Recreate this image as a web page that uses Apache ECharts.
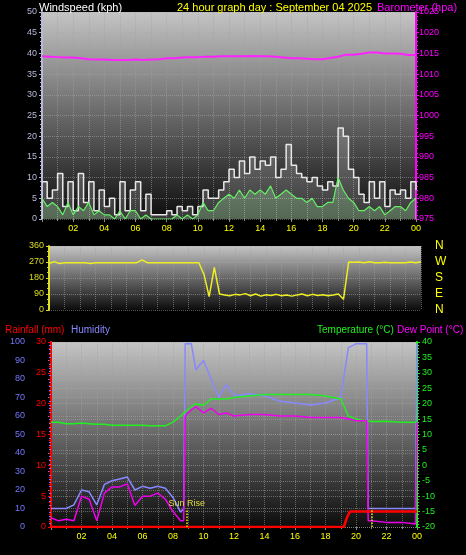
<!DOCTYPE html>
<html><head><meta charset="utf-8">
<script src="https://cdn.jsdelivr.net/npm/echarts@6/dist/echarts.min.js"></script>
<style>html,body{margin:0;padding:0;background:#000}#c{width:466px;height:555px}</style>
</head><body><div id="c"></div>
<script>
// --- data ---
const hourTicks = ['02','04','06','08','10','12','14','16','18','20','22','00'];
const compassLabels = ['N','E','S','W','N'];
// barometer, half-hourly 0..24
const baro = [1014.3,1014.2,1014.1,1014.0,1014.0,1013.8,1013.6,1013.5,1013.5,1013.4,1013.4,1013.4,1013.5,1013.4,1013.5,1013.6,1013.8,1013.8,1014.0,1014.1,1014.1,1014.2,1014.2,1014.3,1014.3,1014.3,1014.3,1014.4,1014.3,1014.3,1014.2,1014.0,1013.8,1013.8,1013.7,1013.6,1013.6,1013.9,1014.2,1014.7,1014.7,1014.9,1015.2,1015.2,1015.0,1015.0,1014.9,1014.6,1014.6];
// wind gust & average, 20-minute steps 0..24
const gust = [9,5,7, 11,3,9, 2,11,4, 9,2,7, 3,5,1, 9,2,7, 9,2,6, 1,1,1, 2,1,3, 2,3,1, 3,7,5, 5,7,9, 12,10,14, 11,15,12, 14,13,15, 10,12,18, 13,11,10, 9,10,8, 7,9,8, 22,20,12, 10,6,4, 9,5,9, 3,7,6, 7,5,9, 7];
const avgWind = [5,3,4, 3,1,4, 1,3,2, 4,1,2, 1,1,0, 2,0,2, 2,0,1, 0,0,0, 0,0,1, 0,1,0, 1,4,2, 2,4,5, 6,5,7, 5,7,6, 7,6,8, 5,6,7, 6,5,5, 4,5,3, 3,4,4, 10,7,5, 4,2,2, 3,2,3, 1,2,3, 3,2,4, 5];
const windDir = [262,272,262, 266,266,266, 266,266,262, 266,266,266, 266,266,266, 266,266,266, 282,266,266, 266,266,266, 266,266,266, 266,266,266, 200,75,240, 90,85,80, 88,85,92, 80,90,78, 86,82,88, 80,84,78, 85,90,80, 88,82,86, 80,84,90, 60,270,268, 270,266,272, 266,266,268, 266,266,266, 266,270,266, 272];
// temperature / humidity / dew point, irregular times (hours)
const thTimes = [0,0.5,1,1.5,2,2.5,3,3.5,4,4.5,5,5.5,6,6.5,7,7.5,8,8.5,8.7,8.8,9.2,9.5,10,10.5,11,11.5,12,13,14,15,16,17,18,19,19.5,20,20.5,20.7,20.8,21,22,23,23.9,24];
const humidity = [10,10,10,12,20,19,12,23,25,26,27,20,22,21,22,21,16,8,10,99,99,85,90,80,70,77,71,72,71,68,67,66,67,70,97,99,99,99,10,10,10,10,10,99];
const temperature = [14,14,13.5,13.5,13.7,13.5,13.3,13.3,13,13,13,13,13,12.8,12.8,12.8,14,16,17,17.5,19,20,19.5,21.5,21.5,21.5,22,22.5,23,23,23,23,22.5,21.5,16,15,14.5,14.5,14.3,14.2,14.3,14,14,14];
const dewPoint = [-17,-18,-17.5,-18,-10,-11,-18,-9,-7,-7,-6,-13,-10,-10,-9,-11,-15,-18,-18,16,18,19,17,18.5,16.5,17,16,16.5,16.5,16,16,15.5,15.5,15.5,15,14.5,14.5,14.5,-18,-18,-18.5,-18.5,-19,14];
const rainTimes = [0,19.2,19.4,19.6,24];
const rainfall = [0,0,1.5,2.5,2.5];
const sunTimes = [8.9, 21.0];

// --- chart ---
const pair = (t, v) => t.map((x, i) => [x, v[i]]);
const step20 = v => v.map((y, i) => [i / 3, y]);
const half = v => v.map((y, i) => [i / 2, y]);
const bg = {type:'linear',x:0,y:0,x2:0,y2:1,colorStops:[{offset:0,color:'#c4c4c4'},{offset:1,color:'#0c0c0c'}]};
const F = 'Liberation Sans, Arial, sans-serif';
const dotted = {show:true,lineStyle:{color:'rgba(160,160,160,0.55)',type:'dotted'}};
function xa(gi, labels) {
  return {type:'value',gridIndex:gi,min:0,max:24,interval:2,
    axisLine:{show:false},axisTick:{show:labels,length:3,lineStyle:{color:'#888'}},
    minorTick:{show:labels,splitNumber:2,length:2,lineStyle:{color:'#888'}},
    minorSplitLine:dotted,splitLine:dotted,
    axisLabel:{show:labels,color:'#ffff00',fontSize:9,fontFamily:F,margin:5,
      formatter:v=>v===0?'':String(v%24).padStart(2,'0')}};
}
function ya(gi, pos, min, max, interval, color, extra) {
  return Object.assign({type:'value',gridIndex:gi,position:pos,min,max,interval,
    axisLine:{show:true,lineStyle:{color:color,width:2}},
    axisTick:{show:true,length:3,lineStyle:{color:color}},
    minorTick:{show:true,splitNumber:5,length:2,lineStyle:{color:color}},
    splitLine:{show:pos==='left',lineStyle:{color:'rgba(170,170,170,0.5)',type:'dotted'}},
    axisLabel:{color:color,fontSize:9,fontFamily:F,margin:5,formatter:v=>String(v)}}, extra||{});
}
const ts = (c, s) => ({color:c,fontSize:s||11,fontWeight:'normal',fontFamily:F});
const chart = echarts.init(document.getElementById('c'));
chart.setOption({
  backgroundColor:'#000',
  animation:false,
  title:[
    {text:'Windspeed (kph)',left:34,top:-3,textStyle:ts('#fff')},
    {text:'24 hour graph day : September 04 2025',left:172,top:-3,textStyle:ts('#ffff00')},
    {text:'Barometer (hpa)',left:372,top:-3,textStyle:ts('#ff00ff')},
    {text:'Rainfall (mm)',left:0,top:320,textStyle:ts('#ff0000',10)},
    {text:'Humidity',left:66,top:320,textStyle:ts('#8888ff',10)},
    {text:'Temperature (°C)',left:312,top:320,textStyle:ts('#22ee22',10)},
    {text:'Dew Point (°C)',left:392,top:320,textStyle:ts('#ff00ff',10)}
  ],
  grid:[
    {left:42,top:12,width:374,height:207,show:true,backgroundColor:bg,borderWidth:0},
    {left:49,top:246,width:372,height:64,show:true,backgroundColor:bg,borderWidth:0},
    {left:51,top:342,width:366,height:185,show:true,backgroundColor:bg,borderWidth:0}
  ],
  xAxis:[xa(0,true), xa(1,false), xa(2,true)],
  yAxis:[
    ya(0,'left',0,50,5,'#b8b8d8'),
    ya(0,'right',975,1025,5,'#ff00ff',{axisLabel:{color:'#ff00ff',fontSize:9,fontFamily:F,margin:3,formatter:v=>String(v)}}),
    ya(1,'left',0,360,90,'#dddd22',{minorTick:{show:true,splitNumber:3,length:2,lineStyle:{color:'#dddd22'}}}),
    {type:'value',gridIndex:1,position:'right',min:0,max:360,interval:90,axisLine:{show:false},axisTick:{show:false},splitLine:{show:false},
      axisLabel:{color:'#ffff00',fontSize:12,fontFamily:F,margin:14,formatter:v=>compassLabels[v/90]}},
    ya(2,'left',0,100,10,'#7777ff',{offset:21}),
    ya(2,'left',0,30,5,'#ff0000',{splitLine:{show:false}}),
    ya(2,'right',-20,40,5,'#22ee22',{splitLine:{show:true,lineStyle:{color:'rgba(170,170,170,0.5)',type:'dotted'}}})
  ],
  series:[
    {type:'line',name:'gust',xAxisIndex:0,yAxisIndex:0,step:'end',symbol:'none',data:step20(gust),
      lineStyle:{color:'#e8e8e8',width:1.5},areaStyle:{color:'rgba(255,255,255,0.25)'}},
    {type:'line',name:'avg',xAxisIndex:0,yAxisIndex:0,symbol:'none',data:step20(avgWind),
      lineStyle:{color:'#66ee66',width:1.2},areaStyle:{color:'rgba(180,255,180,0.35)'}},
    {type:'line',name:'baro',xAxisIndex:0,yAxisIndex:1,symbol:'none',data:half(baro),
      lineStyle:{color:'#ff22ff',width:2}},
    {type:'line',name:'dir',xAxisIndex:1,yAxisIndex:2,symbol:'none',data:step20(windDir),
      lineStyle:{color:'#eeee22',width:1.5}},
    {type:'line',name:'hum',xAxisIndex:2,yAxisIndex:4,symbol:'none',data:pair(thTimes,humidity),
      lineStyle:{color:'#8888ff',width:1.5}},
    {type:'line',name:'temp',xAxisIndex:2,yAxisIndex:6,symbol:'none',data:pair(thTimes,temperature),
      lineStyle:{color:'#22ee22',width:1.5}},
    {type:'line',name:'dew',xAxisIndex:2,yAxisIndex:6,symbol:'none',data:pair(thTimes,dewPoint),
      lineStyle:{color:'#ee00ee',width:1.5}},
    {type:'line',name:'rain',xAxisIndex:2,yAxisIndex:5,symbol:'none',data:pair(rainTimes,rainfall),
      lineStyle:{color:'#ff0000',width:2.5},
      markLine:{symbol:'none',silent:true,lineStyle:{color:'#eeee00',type:'dotted',width:1.5},
        data:[
          [{coord:[sunTimes[0],0],label:{show:true,formatter:'Sun Rise',position:'end',color:'#dddd44',fontSize:9,fontFamily:F,distance:0}},{coord:[sunTimes[0],3]}],
          [{coord:[sunTimes[1],0],label:{show:false}},{coord:[sunTimes[1],3]}]
        ]}}
  ]
});
</script></body></html>
